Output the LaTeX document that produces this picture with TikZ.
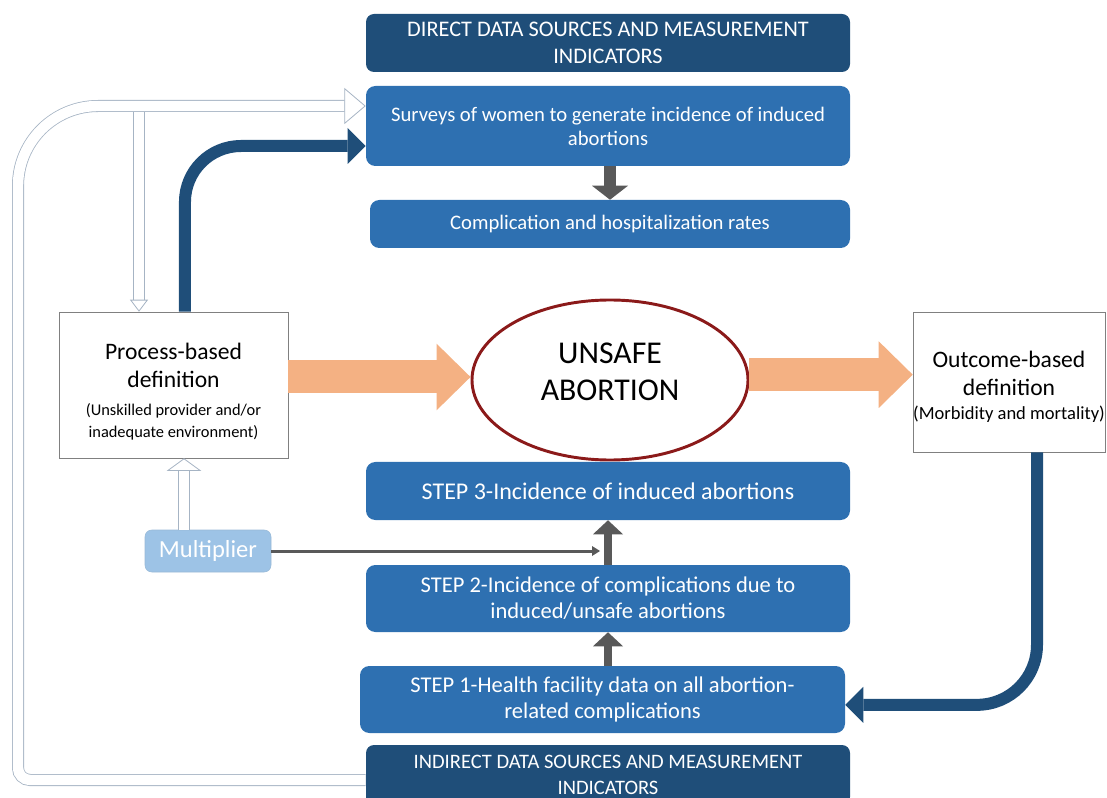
\documentclass[tikz,border=0pt]{standalone}
\usepackage{fontspec}
\setmainfont{Carlito}
\usetikzlibrary{arrows.meta,shapes.geometric,positioning}

\definecolor{darkblue}{HTML}{1F4E79}
\definecolor{midblue}{HTML}{2E70B1}
\definecolor{lightblue}{HTML}{9DC3E6}
\definecolor{peach}{HTML}{F4B183}
\definecolor{maroon}{HTML}{8B1A1A}
\definecolor{arrowgrey}{HTML}{595959}
\definecolor{hollowedge}{HTML}{A6B4C4}

\begin{document}
\begin{tikzpicture}[x=0.75pt,y=0.75pt,yscale=-1,xscale=1]
 \useasboundingbox (0,0) rectangle (1107,798);
 \tikzstyle{header} = [rectangle,rounded corners=6pt,fill=darkblue,text=white,align=center,minimum width=363pt]
 \tikzstyle{bluebox} = [rectangle,rounded corners=7pt,fill=midblue,text=white,align=center]
 \tikzstyle{defbox} = [rectangle,draw=gray,fill=white,align=center,inner xsep=0pt,font=\fontsize{17.7}{21}\selectfont]
 \tikzstyle{fatarrow} = [line width=24.75pt,peach,-{Triangle[length=25.5pt,width=50pt,line width=0pt]}]
 \tikzstyle{darkarrow} = [line width=9pt,darkblue,-{Triangle[length=13.5pt,width=27pt,line width=0pt]}]
 \tikzstyle{greyarrow} = [line width=6pt,arrowgrey,-{Triangle[length=10.5pt,width=22.5pt,line width=0pt]}]
 \tikzstyle{hollow} = [draw=hollowedge,line width=0.6pt,double=white,double distance=7.8pt]

 %Data source headers
 \node[header,minimum height=43.5pt,font=\fontsize{16.7}{20}\selectfont] (direct) at (608,43) {DIRECT DATA SOURCES AND MEASUREMENT\\ INDICATORS};
 \node[header,minimum height=45pt,font=\fontsize{15.4}{19}\selectfont] (indirect) at (608,775) {INDIRECT DATA SOURCES AND MEASUREMENT\\ INDICATORS};

 %Direct measurement boxes
 \node[bluebox,minimum width=363pt,minimum height=60pt,font=\fontsize{15.5}{18}\selectfont] (surveys) at (608,126) {Surveys of women to generate incidence of induced\\ abortions};
 \node[bluebox,minimum width=360pt,minimum height=36pt,font=\fontsize{15.5}{18}\selectfont] (complic) at (610,224) {Complication and hospitalization rates};

 %Definitions and centre
 \node[defbox,minimum width=171.75pt,minimum height=109.5pt] (process) at (173.5,385) {\rule{0pt}{22pt}Process-based\\ definition\\ {\fontsize{12.3}{15}\selectfont (Unskilled provider and/or}\\[-4.5pt] {\fontsize{12.3}{15}\selectfont inadequate environment)}};
 \node[ellipse,draw=maroon,line width=2.2pt,fill=white,minimum width=207pt,minimum height=120pt,align=center,font=\fontsize{23.8}{28}\selectfont] (unsafe) at (610,380) {UNSAFE\\ ABORTION\rule[-12pt]{0pt}{0pt}};
 \node[defbox,minimum width=144pt,minimum height=105pt] (outcome) at (1009,382) {\rule{0pt}{19pt}Outcome-based\\ definition\\[-3pt] {\fontsize{13.9}{15}\selectfont (Morbidity and mortality)}};

 %Indirect steps
 \node[bluebox,minimum width=363pt,minimum height=43.5pt,font=\fontsize{18}{20}\selectfont] (step3) at (608,491) {STEP 3-Incidence of induced abortions};
 \node[bluebox,minimum width=363pt,minimum height=50.25pt,font=\fontsize{16.9}{19.5}\selectfont] (step2) at (608,598.5) {STEP 2-Incidence of complications due to\\ induced/unsafe abortions};
 \node[bluebox,minimum width=363.75pt,minimum height=50.25pt,font=\fontsize{16.9}{19.5}\selectfont] (step1) at (602.5,699.5) {STEP 1-Health facility data on all abortion-\\ related complications};
 \node[rectangle,rounded corners=5pt,draw=lightblue!85!gray,fill=lightblue,text=white,minimum width=94.5pt,minimum height=31.5pt,font=\fontsize{18.4}{20}\selectfont] (multiplier) at (208,551) {Multiplier};

 %Corner points
 \coordinate (loopbl) at (18,780);
 \coordinate (looptl) at (18,106);
 \coordinate (branch) at (139,106);
 \coordinate (multend) at (600,551);

 %Orange arrows
 \draw[fatarrow] ([yshift=-6pt]process.east) -- ([yshift=-6pt]process.east -| unsafe.west);
 \draw[fatarrow] ([yshift=-4pt]unsafe.east) -- ([yshift=-4pt]unsafe.east -| outcome.west);

 %Dark blue arrows
 \draw[darkarrow,rounded corners=42pt] ([xshift=8.6pt]process.north) |- ([yshift=15pt]surveys.west);
 \draw[darkarrow,rounded corners=45pt] ([xshift=21pt]outcome.south) |- ([yshift=4pt]step1.east);

 %Hollow arrows
 \draw[hollow,-{Triangle[open,fill=white,length=9pt,width=13.5pt,line width=0.6pt]}] (branch) -- (branch |- process.north);
 \draw[hollow,-{Triangle[open,fill=white,length=16pt,width=27pt,line width=0.6pt]},rounded corners=9pt] ([yshift=3.75pt]indirect.west) -- (loopbl) [rounded corners=60pt] -- (looptl) -- ([yshift=-15pt]surveys.west);
 \draw[hollow,-{Triangle[open,fill=white,length=9.5pt,width=26pt,line width=0.6pt]}] ([xshift=-18pt]multiplier.north) -- ([xshift=-18pt]multiplier.north |- process.south);

 %Grey arrows
 \draw[greyarrow,line width=9pt,-{Triangle[length=10.5pt,width=27pt,line width=0pt]}] (surveys.south -| complic.north) -- (complic.north);
 \draw[greyarrow] (step1.north -| step2.south) -- (step2.south);
 \draw[greyarrow] (step2.north) -- (step3.south);
 \draw[arrowgrey,line width=2.25pt,-{Triangle[length=6pt,width=7.5pt,line width=0pt]}] (multiplier.east) -- (multend);
\end{tikzpicture}
\end{document}
